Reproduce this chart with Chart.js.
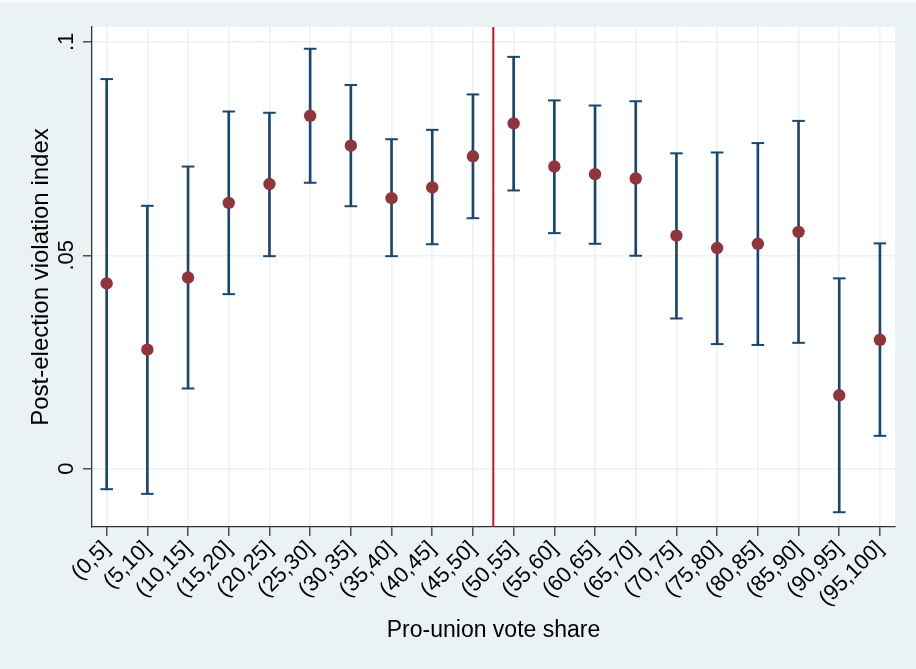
<!DOCTYPE html>
<html>
<head>
<meta charset="utf-8">
<script src="https://cdn.jsdelivr.net/npm/chart.js@4/dist/chart.umd.min.js"></script>
<style>
  html, body { margin: 0; padding: 0; background: #ffffff; }
  canvas { display: block; }
</style>
</head>
<body>
<canvas id="chart" width="916" height="669"></canvas>
<script>
// Vote-share bins
const categories = ['(0,5]', '(5,10]', '(10,15]', '(15,20]', '(20,25]', '(25,30]', '(30,35]',
  '(35,40]', '(40,45]', '(45,50]', '(50,55]', '(55,60]', '(60,65]', '(65,70]', '(70,75]',
  '(75,80]', '(80,85]', '(85,90]', '(90,95]', '(95,100]'];

// Mean post-election violation index per bin
const means = [0.0434, 0.0279, 0.0448, 0.0623, 0.0667, 0.0827, 0.0757, 0.0634, 0.0659, 0.0732,
  0.0809, 0.0708, 0.0690, 0.0680, 0.0546, 0.0517, 0.0527, 0.0555, 0.0172, 0.0302];

// Confidence interval bounds
const lower = [-0.0048, -0.0059, 0.0188, 0.0409, 0.0498, 0.0670, 0.0615, 0.0498, 0.0526, 0.0587,
  0.0652, 0.0552, 0.0527, 0.0499, 0.0352, 0.0292, 0.0290, 0.0295, -0.0102, 0.0077];
const upper = [0.0913, 0.0616, 0.0708, 0.0837, 0.0834, 0.0984, 0.0899, 0.0772, 0.0794, 0.0877,
  0.0965, 0.0863, 0.0851, 0.0861, 0.0739, 0.0741, 0.0763, 0.0815, 0.0446, 0.0528];

// Y-axis ticks and their labels
const yTicks = [0, 0.05, 0.1];
const yTickLabels = ['0', '.05', '.1'];

// 50% vote-share threshold, between the (45,50] and (50,55] bins
const cutoff = 9.5;

const NAVY = '#1A476F';
const CRANBERRY = '#90353B';
const RED = '#C8102E';
const BG = '#EAF2F3';
const GRID = '#EAF2F3';
const AXIS = '#333333';
const FONT = "'Liberation Sans', Arial, Helvetica, sans-serif";

const idx = categories.map((_, i) => i);

const backgroundPlugin = {
  id: 'stataBackground',
  beforeDraw(chart) {
    const { ctx, chartArea: a } = chart;
    ctx.save();
    ctx.fillStyle = BG;
    ctx.fillRect(0, 0, chart.width, chart.height);
    ctx.fillStyle = '#F7FAFA';
    ctx.fillRect(0, 0, chart.width, 3);
    ctx.fillStyle = '#ffffff';
    ctx.fillRect(a.left, a.top, a.right - a.left, a.bottom - a.top);
    ctx.restore();
  }
};

// Threshold line drawn through the x scale, plus rotated y tick labels
const annotationPlugin = {
  id: 'annotations',
  beforeDatasetsDraw(chart) {
    const { ctx, chartArea: a, scales } = chart;
    const x = scales.x.getPixelForValue(cutoff);
    ctx.save();
    ctx.strokeStyle = RED;
    ctx.lineWidth = 2;
    ctx.beginPath();
    ctx.moveTo(x, a.top);
    ctx.lineTo(x, a.bottom);
    ctx.stroke();
    ctx.restore();
  },
  afterDraw(chart) {
    const { ctx, scales } = chart;
    const y = scales.y;
    ctx.save();
    ctx.fillStyle = '#000000';
    ctx.font = '22px ' + FONT;
    ctx.textAlign = 'center';
    ctx.textBaseline = 'alphabetic';
    yTicks.forEach((v, i) => {
      const py = y.getPixelForValue(v);
      ctx.save();
      ctx.translate(73, py);
      ctx.rotate(-Math.PI / 2);
      ctx.fillText(yTickLabels[i], 0, 0);
      ctx.restore();
    });
    ctx.restore();
  }
};

new Chart(document.getElementById('chart'), {
  type: 'scatter',
  data: {
    datasets: [
      {
        label: 'mean',
        type: 'scatter',
        data: idx.map(i => ({ x: i, y: means[i] })),
        pointStyle: 'circle',
        pointRadius: 6.2,
        pointBackgroundColor: CRANBERRY,
        pointBorderColor: CRANBERRY,
        pointBorderWidth: 0,
        order: 0
      },
      {
        label: 'upper cap',
        type: 'scatter',
        data: idx.map(i => ({ x: i, y: upper[i] })),
        pointStyle: 'line',
        pointRadius: 6.3,
        pointBorderColor: NAVY,
        pointBorderWidth: 2,
        order: 1
      },
      {
        label: 'lower cap',
        type: 'scatter',
        data: idx.map(i => ({ x: i, y: lower[i] })),
        pointStyle: 'line',
        pointRadius: 6.3,
        pointBorderColor: NAVY,
        pointBorderWidth: 2,
        order: 1
      },
      {
        label: 'interval',
        type: 'bar',
        data: idx.map(i => ({ x: i, y: [lower[i], upper[i]] })),
        backgroundColor: NAVY,
        borderWidth: 0,
        barThickness: 2,
        order: 2
      }
    ]
  },
  options: {
    responsive: false,
    devicePixelRatio: 1,
    animation: false,
    events: [],
    layout: { padding: { top: 27, right: 21, bottom: 0, left: 0 } },
    plugins: {
      legend: { display: false },
      tooltip: { enabled: false }
    },
    scales: {
      x: {
        type: 'linear',
        position: 'bottom',
        offset: false,
        min: -0.36,
        max: 19.37,
        afterBuildTicks: s => { s.ticks = idx.map(i => ({ value: i })); },
        afterFit: s => { s.height = 142; },
        ticks: {
          autoSkip: false,
          minRotation: 45,
          maxRotation: 45,
          padding: 0,
          color: '#000000',
          font: { family: FONT, size: 22 },
          callback: v => categories[v]
        },
        grid: {
          offset: false,
          color: GRID,
          lineWidth: 1.6,
          drawTicks: true,
          tickLength: 9,
          tickColor: AXIS,
          tickWidth: 1.3
        },
        border: { display: true, color: AXIS, width: 1.3 },
        title: {
          display: true,
          text: 'Pro-union vote share',
          color: '#000000',
          font: { family: FONT, size: 23 },
          padding: { top: 0, bottom: 25 }
        }
      },
      y: {
        type: 'linear',
        position: 'left',
        min: -0.01366,
        max: 0.1035,
        afterBuildTicks: s => { s.ticks = yTicks.map(v => ({ value: v })); },
        afterFit: s => { s.width = 92; },
        ticks: { display: false },
        grid: {
          color: GRID,
          lineWidth: 1.6,
          drawTicks: true,
          tickLength: 9,
          tickColor: AXIS,
          tickWidth: 1.3
        },
        border: { display: true, color: AXIS, width: 1.3 },
        title: {
          display: true,
          text: 'Post-election violation index',
          color: '#000000',
          font: { family: FONT, size: 24 },
          padding: { top: 27, bottom: 0 }
        }
      }
    }
  },
  plugins: [backgroundPlugin, annotationPlugin]
});
</script>
</body>
</html>
